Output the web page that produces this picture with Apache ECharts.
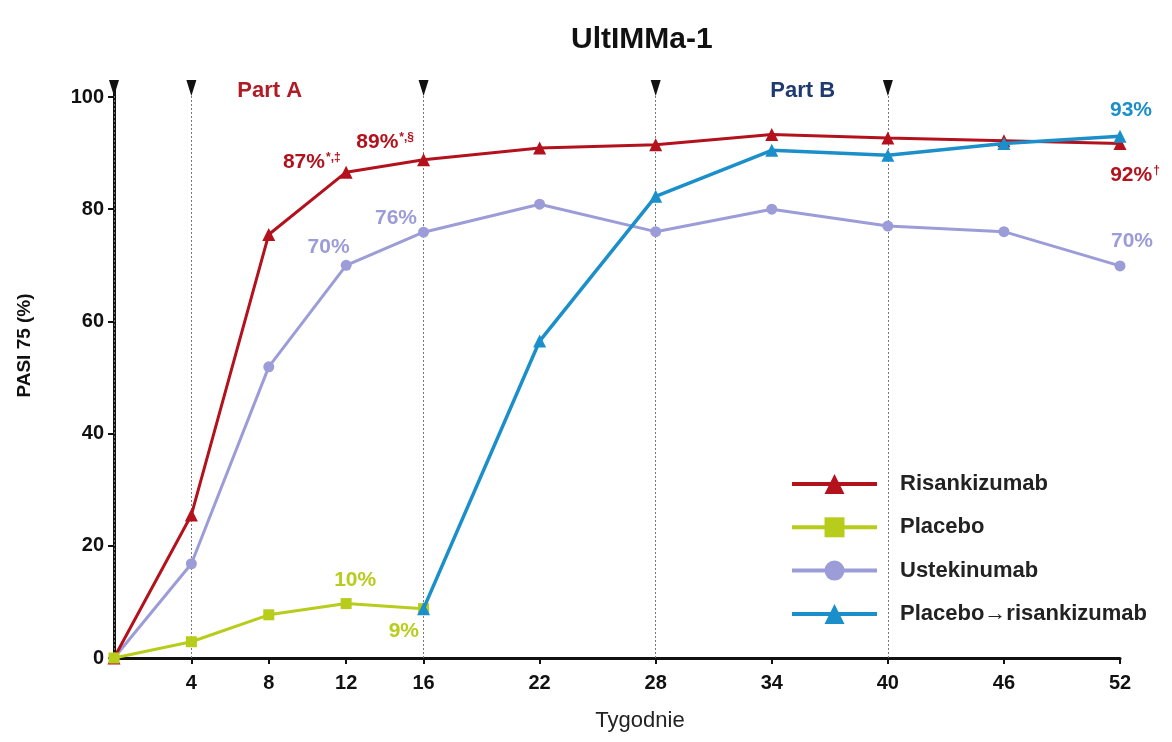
<!DOCTYPE html>
<html>
<head>
<meta charset="utf-8">
<script src="https://cdn.jsdelivr.net/npm/echarts@6/dist/echarts.min.js"></script>
<style>html,body{margin:0;padding:0;background:#fff}#c{width:1172px;height:742px}</style>
</head>
<body>
<div id="c"></div>
<script>
// ---- data ----
const weeksAll = [0, 4, 8, 12, 16, 22, 28, 34, 40, 46, 52];
const weeksPlacebo = [0, 4, 8, 12, 16];
const weeksSwitch = [16, 22, 28, 34, 40, 46, 52];
const risankizumab = [0, 25.5, 75.5, 86.6, 88.8, 90.9, 91.5, 93.3, 92.7, 92.2, 91.7];
const placebo = [0, 2.9, 7.7, 9.7, 8.8];
const ustekinumab = [0, 16.8, 51.9, 70, 75.9, 80.9, 76, 80, 77, 76, 69.9];
const placeboRisankizumab = [8.8, 56.5, 82.3, 90.5, 89.6, 91.7, 93];
const xTickValues = [4, 8, 12, 16, 22, 28, 34, 40, 46, 52];
const yTickValues = [0, 20, 40, 60, 80, 100];
const visitWeeks = [0, 4, 16, 28, 40];
const seriesNames = ['Risankizumab', 'Placebo', 'Ustekinumab', 'Placebo\u2192risankizumab'];
// annotation texts: [week, text, superscript]
const risLabels = [[12, '87%', '*,\u2021'], [16, '89%', '*,\u00a7'], [52, '92%', '\u2020']];
const plaLabels = [[12, '10%'], [16, '9%']];
const ustLabels = [[12, '70%'], [16, '76%'], [52, '70%']];
const swLabels = [[52, '93%']];

const RED = '#b3121c', GREEN = '#b8cc1c', LAV = '#9c9cd8', BLUE = '#1b8fca';
const FONT = '"Liberation Sans", Arial, sans-serif';

// label placement (style, not data)
const labelPlace = {
  'R12': {position: 'left', offset: [6, -10]},
  'R16': {position: 'left', offset: [2, -18]},
  'R52': {position: 'bottom', offset: [15, 10]},
  'P12': {position: 'top', offset: [9, -2]},
  'P16': {position: 'left', offset: [6, 23]},
  'U12': {position: 'left', offset: [14, -18]},
  'U16': {position: 'left', offset: [4, -14]},
  'U52': {position: 'top', offset: [12, -4]},
  'S52': {position: 'top', offset: [11, -4]}
};

function build(weeks, vals, labels, key, color) {
  return weeks.map((w, i) => {
    const item = {value: [w, vals[i]]};
    const l = labels.find(a => a[0] === w);
    if (l) {
      const p = labelPlace[key + w];
      item.label = {
        show: true, position: p.position, offset: p.offset,
        formatter: l[2] ? '{m|' + l[1] + '}{s|' + l[2] + '}' : '{m|' + l[1] + '}',
        rich: {
          m: {fontFamily: FONT, fontWeight: 'bold', fontSize: 21, color: color},
          s: {fontFamily: FONT, fontWeight: 'bold', fontSize: 12, color: color, verticalAlign: 'top', padding: [0, 0, 9, 1]}
        }
      };
    }
    return item;
  });
}

const chart = echarts.init(document.getElementById('c'), null, {renderer: 'canvas'});
const option = {
  backgroundColor: '#fff',
  animation: false,
  title: {
    text: 'UltIMMa-1', left: 566, top: 20,
    textStyle: {fontFamily: FONT, fontWeight: 'bold', fontSize: 30, color: '#111'}
  },
  legend: {
    orient: 'vertical', left: 790, top: 473, padding: 0,
    itemWidth: 85, itemHeight: 25, itemGap: 21.3,
    lineStyle: {width: 4},
    data: seriesNames,
    textStyle: {fontFamily: FONT, fontWeight: 'bold', fontSize: 22, color: '#222', padding: [0, 0, 0, 18]}
  },
  grid: {left: 114, right: 52, top: 83, bottom: 84, containLabel: false},
  xAxis: {
    type: 'value', min: 0, max: 52,
    name: 'Tygodnie', nameLocation: 'middle', nameGap: 52,
    nameTextStyle: {fontFamily: FONT, fontSize: 22, color: '#222', padding: [0, 0, 0, 46]},
    axisLine: {lineStyle: {color: '#111', width: 3}},
    axisTick: {show: true, length: 6, lineStyle: {color: '#111', width: 2}, customValues: xTickValues},
    axisLabel: {customValues: xTickValues, margin: 15, fontFamily: FONT, fontWeight: 'bold', fontSize: 20, color: '#111'},
    splitLine: {show: false}
  },
  yAxis: {
    type: 'value', min: 0, max: 102.5,
    name: 'PASI 75 (%)', nameLocation: 'middle', nameGap: 80,
    nameTextStyle: {fontFamily: FONT, fontWeight: 'bold', fontSize: 19, color: '#111', padding: [0, 0, 0, 50]},
    axisLine: {show: true, lineStyle: {color: '#111', width: 3}},
    axisTick: {show: true, length: 6, lineStyle: {color: '#111', width: 2}, customValues: yTickValues},
    axisLabel: {customValues: yTickValues, margin: 10, fontFamily: FONT, fontWeight: 'bold', fontSize: 20, color: '#111'},
    splitLine: {show: false}
  },
  series: [
    {
      name: seriesNames[0], type: 'line', z: 3,
      data: build(weeksAll, risankizumab, risLabels, 'R', RED),
      symbol: 'triangle', symbolSize: 13,
      lineStyle: {color: RED, width: 3}, itemStyle: {color: RED},
      markLine: {
        silent: true, symbol: 'none', z: 1,
        label: {show: false},
        lineStyle: {color: '#777', width: 1, type: [2, 2]},
        data: visitWeeks.map(w => [{coord: [w, 0]}, {coord: [w, 101.5]}])
      },
      markPoint: {
        silent: true,
        data: visitWeeks.map(w => ({coord: [w, 101.6], symbol: 'triangle', symbolRotate: 180, symbolSize: [10, 16], itemStyle: {color: '#111'}, label: {show: false}}))
          .concat([
            {coord: [8.05, 101], symbol: 'rect', symbolSize: 1, itemStyle: {color: 'rgba(0,0,0,0)'},
             label: {show: true, position: 'inside', formatter: 'Part A', fontFamily: FONT, fontWeight: 'bold', fontSize: 22, color: '#b01c26'}},
            {coord: [35.6, 101], symbol: 'rect', symbolSize: 1, itemStyle: {color: 'rgba(0,0,0,0)'},
             label: {show: true, position: 'inside', formatter: 'Part B', fontFamily: FONT, fontWeight: 'bold', fontSize: 22, color: '#1e3a6e'}}
          ])
      }
    },
    {
      name: seriesNames[1], type: 'line', z: 4,
      data: build(weeksPlacebo, placebo, plaLabels, 'P', GREEN),
      symbol: 'rect', symbolSize: 11,
      lineStyle: {color: GREEN, width: 3}, itemStyle: {color: GREEN}
    },
    {
      name: seriesNames[2], type: 'line', z: 2,
      data: build(weeksAll, ustekinumab, ustLabels, 'U', LAV),
      symbol: 'circle', symbolSize: 11,
      lineStyle: {color: LAV, width: 3}, itemStyle: {color: LAV}
    },
    {
      name: seriesNames[3], type: 'line', z: 5,
      data: build(weeksSwitch, placeboRisankizumab, swLabels, 'S', BLUE),
      symbol: 'triangle', symbolSize: 13,
      lineStyle: {color: BLUE, width: 3.5}, itemStyle: {color: BLUE}
    }
  ]
};
chart.setOption(option);
</script>
</body>
</html>
